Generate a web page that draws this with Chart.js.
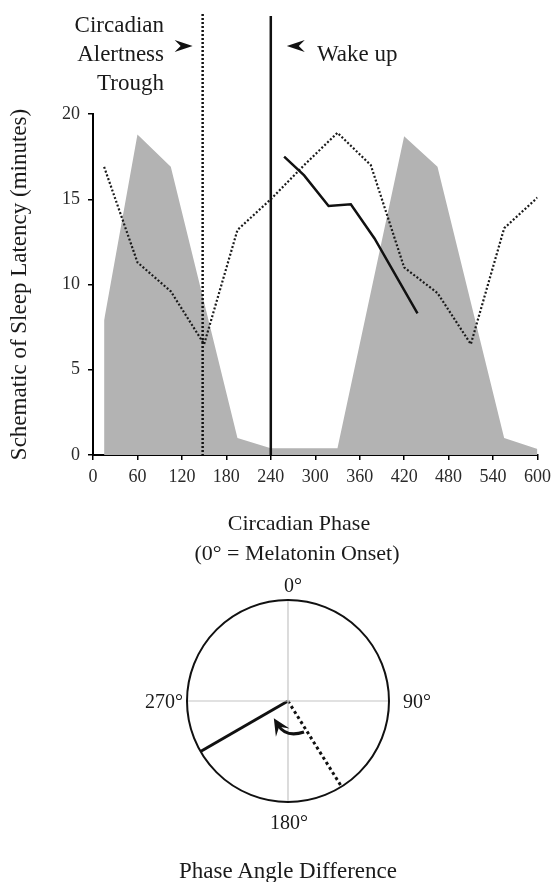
<!DOCTYPE html>
<html>
<head>
<meta charset="utf-8">
<script src="https://cdn.jsdelivr.net/npm/chart.js@4.4.1/dist/chart.umd.min.js"></script>
<style>
  html, body { margin: 0; padding: 0; background: #fff; }
  body { width: 557px; height: 882px; position: relative; overflow: hidden;
         font-family: "Liberation Serif", "Times New Roman", serif; color: #1a1a1a; }
  canvas { position: absolute; left: 0; }
  #main { top: 0; }
  #dial { top: 575px; }
  .lbl { position: absolute; white-space: nowrap; line-height: 1; }
  .c { transform: translate(-50%, -50%); }
  .r { transform: translate(-100%, -50%); }
  .l { transform: translate(0, -50%); }
</style>
</head>
<body>
<canvas id="main" width="557" height="600"></canvas>
<canvas id="dial" width="557" height="260"></canvas>

<!-- annotations -->
<div class="lbl" style="right:393px; top:10px; font-size:23px; line-height:29px; text-align:right;">Circadian<br>Alertness<br>Trough</div>
<div class="lbl l" style="left:317px; top:53px; font-size:23px;">Wake up</div>

<div class="lbl c" style="left:299px; top:523px; font-size:22px;">Circadian Phase</div>
<div class="lbl c" style="left:297px; top:553px; font-size:22px;">(0° = Melatonin Onset)</div>

<div class="lbl c" style="left:293px; top:585px; font-size:20px;">0°</div>
<div class="lbl l" style="left:403px; top:701px; font-size:20px;">90°</div>
<div class="lbl r" style="left:183px; top:701px; font-size:20px;">270°</div>
<div class="lbl c" style="left:289px; top:822px; font-size:20px;">180°</div>
<div class="lbl c" style="left:288px; top:870px; font-size:23px;">Phase Angle Difference</div>

<script>
// circadian phase (deg) and schematic sleep latency (min), dotted curve
const latencyPhase = [15, 60, 105, 150, 195, 240, 285, 330, 375, 420, 465, 510, 555, 600];
const latencyValues = [16.9, 11.3, 9.6, 6.5, 13.2, 15.0, 17.0, 18.9, 17.0, 11.0, 9.5, 6.5, 13.3, 15.1];

// grey shaded profile
const shadePhase = [15, 60, 105, 195, 240, 330, 420, 465, 555, 600];
const shadeValues = [7.9, 18.8, 16.9, 1.0, 0.4, 0.4, 18.7, 16.9, 1.0, 0.35];

// solid curve after wake up
const wakePhase = [258, 285, 318, 348, 380, 438];
const wakeValues = [17.5, 16.4, 14.6, 14.7, 12.7, 8.3];

// vertical markers: alertness trough and wake up (deg)
const markerPhases = [148, 240];

const xTicks = [0, 60, 120, 180, 240, 300, 360, 420, 480, 540, 600];
const yTicks = [0, 5, 10, 15, 20];

const toPoints = (xs, ys) => xs.map((x, i) => ({ x: x, y: ys[i] }));

// vertical marker lines + the little arrow heads next to the labels
const markerPlugin = {
  id: 'markers',
  afterDatasetsDraw(chart) {
    const ctx = chart.ctx;
    const xs = chart.scales.x;
    const bottom = chart.chartArea.bottom;
    const tx = xs.getPixelForValue(markerPhases[0]);
    const wx = xs.getPixelForValue(markerPhases[1]);
    ctx.save();
    ctx.strokeStyle = '#111';
    ctx.lineWidth = 2.5;
    ctx.setLineDash([2, 2]);
    ctx.beginPath();
    ctx.moveTo(tx, 14);
    ctx.lineTo(tx, bottom);
    ctx.stroke();
    ctx.setLineDash([]);
    ctx.beginPath();
    ctx.moveTo(wx, 16);
    ctx.lineTo(wx, bottom);
    ctx.stroke();

    // arrow heads
    ctx.fillStyle = '#111';
    const head = (tipX, tipY, dir) => {
      ctx.beginPath();
      ctx.moveTo(tipX, tipY);
      ctx.lineTo(tipX - dir * 18, tipY - 6);
      ctx.lineTo(tipX - dir * 12, tipY);
      ctx.lineTo(tipX - dir * 18, tipY + 6);
      ctx.closePath();
      ctx.fill();
    };
    head(tx - 10, 46, 1);
    head(wx + 16, 46, -1);
    ctx.restore();
  }
};

new Chart(document.getElementById('main'), {
  type: 'scatter',
  data: {
    datasets: [
      {
        data: toPoints(wakePhase, wakeValues),
        showLine: true,
        borderColor: '#111',
        borderWidth: 2.5,
        pointRadius: 0,
        fill: false,
        order: 1
      },
      {
        data: toPoints(latencyPhase, latencyValues),
        showLine: true,
        borderColor: '#1a1a1a',
        borderWidth: 2.2,
        borderDash: [2, 2],
        pointRadius: 0,
        fill: false,
        order: 2
      },
      {
        data: toPoints(shadePhase, shadeValues),
        showLine: true,
        borderWidth: 0,
        borderColor: 'rgba(0,0,0,0)',
        backgroundColor: '#b3b3b3',
        pointRadius: 0,
        fill: 'origin',
        order: 3
      }
    ]
  },
  options: {
    responsive: false,
    animation: false,
    layout: { padding: { top: 114, right: 17, left: 0, bottom: 105 } },
    plugins: { legend: { display: false }, tooltip: { enabled: false } },
    scales: {
      x: {
        type: 'linear',
        min: 0, max: 600,
        afterBuildTicks: s => { s.ticks = xTicks.map(v => ({ value: v })); },
        afterFit: s => { s.height = 40; },
        ticks: { color: '#2a2a2a', padding: 6, maxRotation: 0,
                 font: { family: '"Liberation Serif", serif', size: 18 } },
        grid: { drawOnChartArea: false, drawTicks: true, tickLength: 5, color: '#000', lineWidth: 1.5 },
        border: { display: true, color: '#000', width: 2 }
      },
      y: {
        type: 'linear',
        min: 0, max: 20,
        afterBuildTicks: s => { s.ticks = yTicks.map(v => ({ value: v })); },
        afterFit: s => { s.width = 93; },
        ticks: { color: '#2a2a2a', padding: 8,
                 font: { family: '"Liberation Serif", serif', size: 18 } },
        grid: { drawOnChartArea: false, drawTicks: true, tickLength: 5, color: '#000', lineWidth: 1.5 },
        border: { display: true, color: '#000', width: 2 },
        title: {
          display: true,
          text: 'Schematic of Sleep Latency (minutes)',
          color: '#1a1a1a',
          padding: { top: 6, bottom: 0 },
          font: { family: '"Liberation Serif", serif', size: 23, weight: 'normal' }
        }
      }
    }
  },
  plugins: [markerPlugin]
});

// phase angle dial: same marker phases drawn as radii
const rad = d => d * Math.PI / 180;
const radius = deg => [{ x: 0, y: 0 }, { x: Math.sin(rad(deg)), y: Math.cos(rad(deg)) }];

const dialPlugin = {
  id: 'dial',
  afterDatasetsDraw(chart) {
    const ctx = chart.ctx;
    const xs = chart.scales.x, ys = chart.scales.y;
    const cx = xs.getPixelForValue(0), cy = ys.getPixelForValue(0);
    const r = xs.getPixelForValue(1) - cx;
    ctx.save();
    ctx.strokeStyle = '#111';
    ctx.lineWidth = 2;
    ctx.beginPath();
    ctx.arc(cx, cy, r, 0, Math.PI * 2);
    ctx.stroke();

    // curved arrow from trough radius towards wake radius
    const k = r / 101;
    const sx = cx + 16 * k, sy = cy + 31 * k;
    const qx = cx - 2 * k, qy = cy + 37 * k;
    const ex = cx - 10 * k, ey = cy + 24 * k;
    ctx.lineWidth = 3;
    ctx.beginPath();
    ctx.moveTo(sx, sy);
    ctx.quadraticCurveTo(qx, qy, ex, ey);
    ctx.stroke();
    const ang = Math.atan2(ey - qy, ex - qx);
    const L = 17 * k, W = 8 * k;
    const tipX = ex + Math.cos(ang) * 8 * k, tipY = ey + Math.sin(ang) * 8 * k;
    ctx.fillStyle = '#111';
    ctx.beginPath();
    ctx.moveTo(tipX, tipY);
    ctx.lineTo(tipX - Math.cos(ang) * L - Math.sin(ang) * W, tipY - Math.sin(ang) * L + Math.cos(ang) * W);
    ctx.lineTo(tipX - Math.cos(ang) * L * 0.6, tipY - Math.sin(ang) * L * 0.6);
    ctx.lineTo(tipX - Math.cos(ang) * L + Math.sin(ang) * W, tipY - Math.sin(ang) * L - Math.cos(ang) * W);
    ctx.closePath();
    ctx.fill();
    ctx.restore();
  }
};

new Chart(document.getElementById('dial'), {
  type: 'scatter',
  data: {
    datasets: [
      { data: [{ x: -1, y: 0 }, { x: 1, y: 0 }], showLine: true, borderColor: '#c4c4c4', borderWidth: 1.2, pointRadius: 0 },
      { data: [{ x: 0, y: -1 }, { x: 0, y: 1 }], showLine: true, borderColor: '#c4c4c4', borderWidth: 1.2, pointRadius: 0 },
      { data: radius(markerPhases[1]), showLine: true, borderColor: '#111', borderWidth: 3, pointRadius: 0 },
      { data: radius(markerPhases[0]), showLine: true, borderColor: '#111', borderWidth: 3, borderDash: [3, 3], pointRadius: 0 }
    ]
  },
  options: {
    responsive: false,
    animation: false,
    layout: { padding: { top: 25, bottom: 33, left: 187, right: 168 } },
    plugins: { legend: { display: false }, tooltip: { enabled: false } },
    scales: {
      x: { type: 'linear', min: -1, max: 1, display: false },
      y: { type: 'linear', min: -1, max: 1, display: false }
    }
  },
  plugins: [dialPlugin]
});
</script>
</body>
</html>
